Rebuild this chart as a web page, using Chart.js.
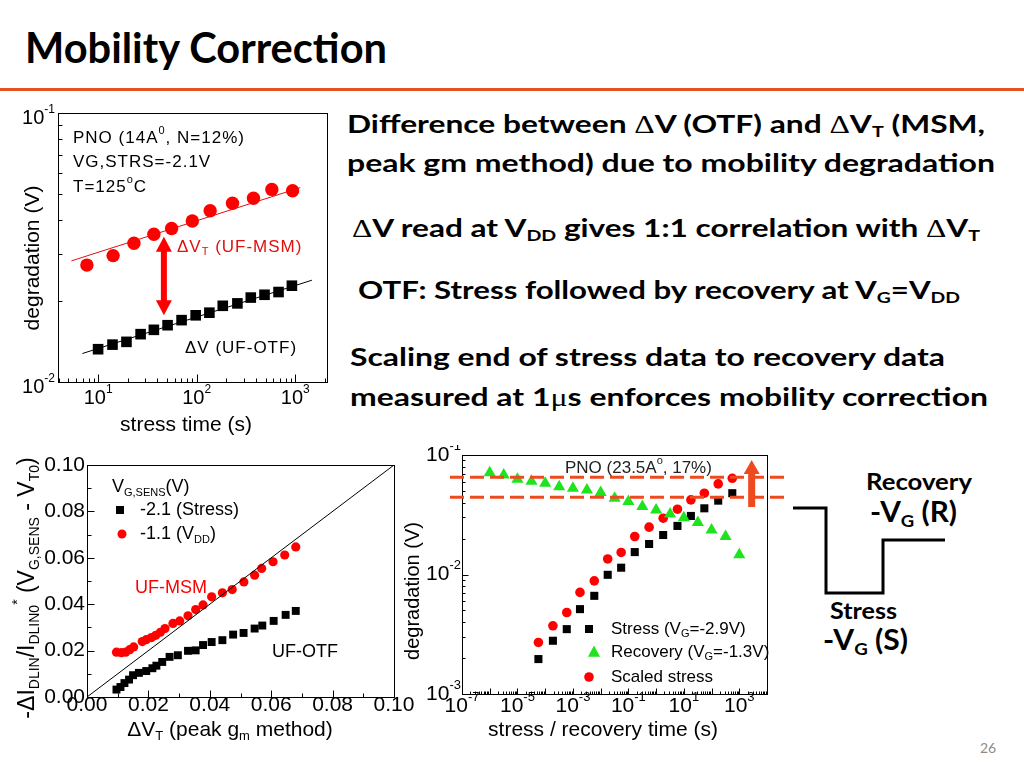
<!DOCTYPE html>
<html>
<head>
<meta charset="utf-8">
<title>Mobility Correction</title>
<script src="https://cdn.jsdelivr.net/npm/chart.js@4.4.1/dist/chart.umd.min.js"></script>
<style>
  html, body { margin: 0; padding: 0; }
  body { width: 1024px; height: 768px; position: relative; overflow: hidden; background: #fff; }
  .txt { position: absolute; white-space: nowrap; font-family: Lato, "Open Sans", sans-serif; font-weight: 700; line-height: 1; color: #000; transform-origin: 0 0; }
  .txt sub { font-size: 0.62em; vertical-align: baseline; position: relative; top: 0.28em; line-height: 0; }
  .sym { font-family: "Liberation Serif", serif; font-weight: 400; }
  canvas { position: absolute; }
</style>
</head>
<body>
<div class="txt" data-w="362" style="left:25px;top:26px;font-size:42px">Mobility Correction</div>
<div style="position:absolute;left:0;top:88px;width:1024px;height:3px;background:#e4521f"></div>

<div class="txt" data-w="638" style="left:347px;top:111px;font-size:25px">Difference between <span class="sym">Δ</span>V (OTF) and <span class="sym">Δ</span>V<sub>T</sub> (MSM,</div>
<div class="txt" data-w="648" style="left:347px;top:150px;font-size:25px">peak gm method) due to mobility degradation</div>
<div class="txt" data-w="628" style="left:352px;top:215px;font-size:25px"><span class="sym">Δ</span>V read at V<sub>DD</sub> gives 1:1 correlation with <span class="sym">Δ</span>V<sub>T</sub></div>
<div class="txt" data-w="602" style="left:358px;top:277px;font-size:25px">OTF: Stress followed by recovery at V<sub>G</sub>=V<sub>DD</sub></div>
<div class="txt" data-w="595" style="left:350px;top:344px;font-size:25px">Scaling end of stress data to recovery data</div>
<div class="txt" data-w="638" style="left:350px;top:384px;font-size:25px">measured at 1<span class="sym">μ</span>s enforces mobility correction</div>

<svg style="position:absolute;left:0;top:0" width="1024" height="768">
  <polyline points="793,508 826,508 826,593 883,593 883,540 945,540" fill="none" stroke="#000" stroke-width="3"/>
</svg>
<div class="txt" data-w="106" style="left:866px;top:471px;font-size:22px">Recovery</div>
<div class="txt" data-w="87" style="left:870px;top:497px;font-size:28px">-V<sub>G</sub> (R)</div>
<div class="txt" data-w="67" style="left:830px;top:600px;font-size:22px">Stress</div>
<div class="txt" data-w="85" style="left:823px;top:625px;font-size:28px">-V<sub>G</sub> (S)</div>
<div class="txt" style="left:980px;top:741px;font-size:14px;font-weight:400;color:#8c8c8c">26</div>

<canvas id="c1" width="345" height="345" style="left:0;top:95px"></canvas>
<canvas id="c2" width="420" height="310" style="left:0;top:445px"></canvas>
<canvas id="c3" width="400" height="300" style="left:400px;top:445px"></canvas>

<script>
const FONT = "'Liberation Sans', Arial, Helvetica, sans-serif";

// ---------- chart 1: degradation vs stress time (PNO 14A) ----------
const c1TimeMsm = [7.7, 14.2, 23.1, 36.8, 55.7, 90.3, 137, 231, 377, 579, 940];
const c1DegMsm = [0.0272, 0.0295, 0.0328, 0.0354, 0.0372, 0.0397, 0.0433, 0.0462, 0.0482, 0.052, 0.0514];
const c1TimeOtf = [10, 14, 19.4, 27, 36.8, 50.7, 70.3, 97.7, 134.6, 184, 259, 354, 488, 677, 925];
const c1DegOtf = [0.01324, 0.01377, 0.0141, 0.01506, 0.01563, 0.01626, 0.01698, 0.0177, 0.0181, 0.0192, 0.0196, 0.0206, 0.0211, 0.0216, 0.0228];
const c1FitMsmT = [5.36, 1125];
const c1FitMsmD = [0.0282, 0.0528];
const c1FitOtfT = [6.93, 1476];
const c1FitOtfD = [0.01276, 0.0239];
const c1ArrowT = 46.5;
const c1ArrowD = [0.0347, 0.0177];
const c1XTicks = [10, 100, 1000];
const c1XLabels = [["10", ["1", "sup"]], ["10", ["2", "sup"]], ["10", ["3", "sup"]]];
const c1YTicks = [0.01, 0.1];
const c1YLabels = [["10", ["-2", "sup"]], ["10", ["-1", "sup"]]];

// ---------- chart 2: -dI/I*(Vg-Vt0) vs dVt ----------
const c2VtMsm = [0.0096, 0.0112, 0.0126, 0.0139, 0.0152, 0.018, 0.0193, 0.021, 0.0224, 0.0239, 0.0254, 0.028, 0.0302, 0.0329, 0.0354, 0.0378, 0.0406, 0.0441, 0.0473, 0.0511, 0.0546, 0.0569, 0.0606, 0.0644, 0.068];
const c2DegMsm = [0.0193, 0.0191, 0.0193, 0.0204, 0.0216, 0.0239, 0.0247, 0.0256, 0.0266, 0.0279, 0.0295, 0.0317, 0.0328, 0.035, 0.0377, 0.0397, 0.0432, 0.0449, 0.0463, 0.0496, 0.0525, 0.0554, 0.0583, 0.0612, 0.0647];
const c2VtOtf = [0.0096, 0.0109, 0.0122, 0.0137, 0.015, 0.0169, 0.0193, 0.0213, 0.0226, 0.0245, 0.0269, 0.0296, 0.0329, 0.0354, 0.0378, 0.0406, 0.0441, 0.0476, 0.051, 0.0546, 0.0571, 0.0608, 0.0647, 0.068];
const c2DegOtf = [0.0032, 0.0043, 0.006, 0.0075, 0.0094, 0.0104, 0.0112, 0.0124, 0.0135, 0.0151, 0.0173, 0.018, 0.0199, 0.0201, 0.0224, 0.0237, 0.0245, 0.0269, 0.0276, 0.0295, 0.0308, 0.0328, 0.0354, 0.0371];
const c2Diag = [0, 0.1];
const c2Ticks = [0, 0.02, 0.04, 0.06, 0.08, 0.1];
const c2Minor = [0.01, 0.03, 0.05, 0.07, 0.09];
const c2Labels = ["0.00", "0.02", "0.04", "0.06", "0.08", "0.10"];

// ---------- chart 3: stress / recovery (PNO 23.5A) ----------
const c3RecTime = [1e-6, 3.2e-6, 1e-5, 3.2e-5, 1e-4, 3.2e-4, 1e-3, 3.2e-3, 1e-2, 3.2e-2, 0.1, 0.32, 1, 3.2, 10, 32, 100, 320, 1000];
const c3RecDeg = [0.0711, 0.068, 0.0627, 0.0603, 0.058, 0.0543, 0.0526, 0.051, 0.0485, 0.0435, 0.0408, 0.037, 0.0347, 0.0321, 0.0299, 0.0272, 0.0236, 0.0208, 0.0146];
const c3StressTime = [5.7e-5, 1.9e-4, 6e-4, 1.8e-3, 5.9e-3, 1.8e-2, 5.5e-2, 0.17, 0.56, 1.8, 5.9, 18, 55, 174, 560];
const c3StressDeg = [0.00196, 0.00279, 0.00349, 0.00513, 0.00663, 0.00994, 0.0114, 0.0154, 0.018, 0.0214, 0.0255, 0.0309, 0.0358, 0.0415, 0.0479];
const c3ScaledDeg = [0.0027, 0.00372, 0.00481, 0.00708, 0.00885, 0.0135, 0.0153, 0.0208, 0.0249, 0.0296, 0.0352, 0.0421, 0.0479, 0.0573, 0.0638];
const c3Levels = [0.065, 0.0443];
const c3ArrowT = 2800;
const c3ArrowD = [0.0367, 0.0908];
const c3XTicks = [1e-7, 1e-6, 1e-5, 1e-4, 1e-3, 1e-2, 1e-1, 1, 10, 100, 1000, 1e4];
const c3XLabelVals = [1e-7, 1e-5, 1e-3, 1e-1, 10, 1000];
const c3XLabels = [["10", ["-7", "sup"]], ["10", ["-5", "sup"]], ["10", ["-3", "sup"]], ["10", ["-1", "sup"]], ["10", ["1", "sup"]], ["10", ["3", "sup"]]];
const c3YTicks = [0.001, 0.01, 0.1];
const c3YLabels = [["10", ["-3", "sup"]], ["10", ["-2", "sup"]], ["10", ["-1", "sup"]]];

const RED = "#ff0000";
const GREEN = "#1ee31e";
const ORANGE = "#ef4a1f";

const pts = (xs, ys) => xs.map((x, i) => ({ x, y: ys[i] }));

function logMinor(decades) {
  const out = [];
  decades.forEach(d => { for (let k = 2; k <= 9; k++) out.push(d * k); });
  return out;
}

// text with sub / superscript pieces
function rich(ctx, x, y, parts, o) {
  const size = o.size || 20;
  const segs = parts.map(p => (typeof p === "string" ? [p, ""] : p));
  ctx.save();
  ctx.letterSpacing = (o.ls || 0) + "px";
  const fontOf = k => (k ? Math.round(size * 0.62) : size) + "px " + FONT;
  const widths = segs.map(([t, k]) => { ctx.font = fontOf(k); return ctx.measureText(t).width; });
  const total = widths.reduce((a, b) => a + b, 0);
  ctx.translate(x, y);
  if (o.rot) ctx.rotate(o.rot);
  let cx = o.align === "center" ? -total / 2 : o.align === "right" ? -total : 0;
  ctx.textBaseline = "middle";
  ctx.textAlign = "left";
  ctx.fillStyle = o.color || "#000";
  segs.forEach(([t, k], i) => {
    ctx.font = fontOf(k);
    const dy = k === "sub" ? size * 0.32 : k === "sup" ? -size * 0.42 : 0;
    ctx.fillText(t, cx, dy);
    cx += widths[i];
  });
  ctx.restore();
}

function marker(ctx, kind, x, y, s, color) {
  ctx.fillStyle = color;
  ctx.beginPath();
  if (kind === "rect") ctx.rect(x - s / 2, y - s / 2, s, s);
  else if (kind === "circle") ctx.arc(x, y, s / 2, 0, Math.PI * 2);
  else {
    ctx.moveTo(x, y - s * 0.55);
    ctx.lineTo(x + s / 2, y + s * 0.4);
    ctx.lineTo(x - s / 2, y + s * 0.4);
    ctx.closePath();
  }
  ctx.fill();
}

// vertical arrow, head at yHead (and at yTail too if both)
function arrow(ctx, x, yTail, yHead, sw, hw, hl, color, both) {
  const d = yHead > yTail ? 1 : -1;
  ctx.fillStyle = color;
  ctx.beginPath();
  ctx.moveTo(x, yHead);
  ctx.lineTo(x + hw / 2, yHead - d * hl);
  ctx.lineTo(x + sw / 2, yHead - d * hl);
  if (both) {
    ctx.lineTo(x + sw / 2, yTail + d * hl);
    ctx.lineTo(x + hw / 2, yTail + d * hl);
    ctx.lineTo(x, yTail);
    ctx.lineTo(x - hw / 2, yTail + d * hl);
    ctx.lineTo(x - sw / 2, yTail + d * hl);
  } else {
    ctx.lineTo(x + sw / 2, yTail);
    ctx.lineTo(x - sw / 2, yTail);
  }
  ctx.lineTo(x - sw / 2, yHead - d * hl);
  ctx.lineTo(x - hw / 2, yHead - d * hl);
  ctx.closePath();
  ctx.fill();
}

// box, inward ticks, tick labels, axis titles, annotations
function framePlugin(o) {
  return {
    id: "frame",
    afterDatasetsDraw(chart) {
      const ctx = chart.ctx, a = chart.chartArea, sx = chart.scales.x, sy = chart.scales.y;
      ctx.save();
      ctx.strokeStyle = "#000";
      ctx.lineWidth = 1;
      const L = Math.round(a.left) + 0.5, B = Math.round(a.bottom) + 0.5;
      ctx.strokeRect(L, Math.round(a.top) + 0.5, Math.round(a.right - a.left), Math.round(a.bottom - a.top));
      ctx.beginPath();
      const xt = (vals, len) => vals.forEach(v => {
        const px = Math.round(sx.getPixelForValue(v)) + 0.5;
        if (px < a.left || px > a.right + 1) return;
        ctx.moveTo(px, B); ctx.lineTo(px, B - len);
      });
      const yt = (vals, len) => vals.forEach(v => {
        const py = Math.round(sy.getPixelForValue(v)) + 0.5;
        if (py < a.top - 1 || py > a.bottom + 1) return;
        ctx.moveTo(L, py); ctx.lineTo(L + len, py);
      });
      xt(o.xMajor, o.major); xt(o.xMinor, o.minor);
      yt(o.yMajor, o.major); yt(o.yMinor, o.minor);
      ctx.stroke();
      o.xLabelVals.forEach((v, i) => rich(ctx, sx.getPixelForValue(v), a.bottom + o.xLabOff, o.xLabels[i], { size: o.tickSize, align: "center" }));
      o.yLabelVals.forEach((v, i) => rich(ctx, a.left - o.yLabGap, sy.getPixelForValue(v) + o.yLabOff, o.yLabels[i], { size: o.tickSize, align: "right" }));
      rich(ctx, o.xTitle.x, o.xTitle.y, o.xTitle.parts, { size: o.xTitle.size, align: "center" });
      rich(ctx, o.yTitle.x, o.yTitle.y, o.yTitle.parts, { size: o.yTitle.size, align: "center", rot: -Math.PI / 2 });
      if (o.extra) o.extra(ctx, a, sx, sy);
      ctx.restore();
    }
  };
}

function makeChart(id, datasets, xs, ys, pad, plugin) {
  return new Chart(document.getElementById(id), {
    type: "scatter",
    data: { datasets },
    options: {
      responsive: false,
      animation: false,
      layout: { padding: pad },
      plugins: { legend: { display: false }, tooltip: { enabled: false } },
      scales: { x: Object.assign({ display: false }, xs), y: Object.assign({ display: false }, ys) }
    },
    plugins: [plugin]
  });
}

const fitLine = (d, color) => ({ data: d, showLine: true, borderColor: color, borderWidth: 1, pointRadius: 0 });
const dots = (d, style, r, color) => ({ data: d, showLine: false, pointStyle: style, pointRadius: r, backgroundColor: color, borderColor: color, borderWidth: 0 });

// ===== chart 1 =====
makeChart("c1",
  [
    fitLine(pts(c1FitMsmT, c1FitMsmD), "#e01010"),
    fitLine(pts(c1FitOtfT, c1FitOtfD), "#000"),
    dots(pts(c1TimeMsm, c1DegMsm), "circle", 6.7, RED),
    dots(pts(c1TimeOtf, c1DegOtf), "rect", 7.5, "#000")
  ],
  { type: "logarithmic", min: 3.92, max: 2100 },
  { type: "logarithmic", min: 0.01, max: 0.1 },
  { left: 58, right: 18, top: 18, bottom: 58 },
  framePlugin({
    major: 8, minor: 4, tickSize: 20,
    xMajor: c1XTicks, xMinor: logMinor([1, 10, 100, 1000]),
    yMajor: c1YTicks, yMinor: logMinor([0.01]),
    xLabelVals: c1XTicks, xLabels: c1XLabels, xLabOff: 16,
    yLabelVals: c1YTicks, yLabels: c1YLabels, yLabGap: 3, yLabOff: 5,
    xTitle: { x: 186, y: 330, size: 21, parts: ["stress time (s)"] },
    yTitle: { x: 33, y: 163, size: 21, parts: ["degradation (V)"] },
    extra(ctx, a, sx, sy) {
      rich(ctx, 73, 43, ["PNO (14A", ["0", "sup"], ", N=12%)"], { size: 17, ls: 1 });
      rich(ctx, 73, 67, ["VG,STRS=-2.1V"], { size: 17, ls: 1 });
      rich(ctx, 73, 92, ["T=125", ["o", "sup"], "C"], { size: 17, ls: 1 });
      rich(ctx, 177, 152, ["ΔV", ["T", "sub"], " (UF-MSM)"], { size: 17, ls: 1, color: "#e01010" });
      rich(ctx, 185, 253, ["ΔV (UF-OTF)"], { size: 17, ls: 1 });
      arrow(ctx, sx.getPixelForValue(c1ArrowT), sy.getPixelForValue(c1ArrowD[1]), sy.getPixelForValue(c1ArrowD[0]), 6, 16, 15, RED, true);
    }
  })
);

// ===== chart 2 =====
makeChart("c2",
  [
    fitLine(pts(c2Diag, c2Diag), "#000"),
    dots(pts(c2VtOtf, c2DegOtf), "rect", 5.6, "#000"),
    dots(pts(c2VtMsm, c2DegMsm), "circle", 4.6, RED)
  ],
  { type: "linear", min: 0, max: 0.1 },
  { type: "linear", min: 0, max: 0.1 },
  { left: 87, right: 26, top: 20, bottom: 58 },
  framePlugin({
    major: 7, minor: 4, tickSize: 21,
    xMajor: c2Ticks, xMinor: c2Minor, yMajor: c2Ticks, yMinor: c2Minor,
    xLabelVals: c2Ticks, xLabels: c2Labels.map(s => [s]), xLabOff: 8,
    yLabelVals: c2Ticks, yLabels: c2Labels.map(s => [s]), yLabGap: 2, yLabOff: 0,
    xTitle: { x: 230, y: 285, size: 21, parts: ["ΔV", ["T", "sub"], " (peak g", ["m", "sub"], " method)"] },
    yTitle: { x: 28, y: 143, size: 23, parts: ["-ΔI", ["DLIN", "sub"], "/I", ["DLIN0", "sub"], ["*", "sup"], " (V", ["G,SENS", "sub"], " - V", ["T0", "sub"], ")"] },
    extra(ctx) {
      rich(ctx, 112, 42, ["V", ["G,SENS", "sub"], "(V)"], { size: 18 });
      marker(ctx, "rect", 120, 65, 8, "#000");
      rich(ctx, 140, 65, ["-2.1 (Stress)"], { size: 18 });
      marker(ctx, "circle", 122, 89, 9, RED);
      rich(ctx, 140, 89, ["-1.1 (V", ["DD", "sub"], ")"], { size: 18 });
      rich(ctx, 135, 143, ["UF-MSM"], { size: 18, color: RED });
      rich(ctx, 272, 207, ["UF-OTF"], { size: 18 });
    }
  })
);

// ===== chart 3 =====
makeChart("c3",
  [
    dots(pts(c3RecTime, c3RecDeg), "triangle", 7, GREEN),
    dots(pts(c3StressTime, c3StressDeg), "rect", 5.7, "#000"),
    dots(pts(c3StressTime, c3ScaledDeg), "circle", 4.8, RED)
  ],
  { type: "logarithmic", min: 1e-7, max: 1e4 },
  { type: "logarithmic", min: 0.001, max: 0.1 },
  { left: 62, right: 33, top: 10, bottom: 51 },
  framePlugin({
    major: 6, minor: 3, tickSize: 21,
    xMajor: c3XTicks, xMinor: logMinor(c3XTicks.slice(0, -1)),
    yMajor: c3YTicks, yMinor: logMinor([0.001, 0.01]),
    xLabelVals: c3XLabelVals, xLabels: c3XLabels, xLabOff: 12,
    yLabelVals: c3YTicks, yLabels: c3YLabels, yLabGap: 1, yLabOff: 0,
    xTitle: { x: 203, y: 285, size: 21, parts: ["stress / recovery time (s)"] },
    yTitle: { x: 13, y: 146, size: 20, parts: ["degradation (V)"] },
    extra(ctx, a, sx, sy) {
      rich(ctx, 165, 23, ["PNO (23.5A", ["o", "sup"], ", 17%)"], { size: 17, color: "#222" });
      ctx.strokeStyle = ORANGE;
      ctx.lineWidth = 3;
      ctx.setLineDash([14, 6]);
      c3Levels.forEach(v => {
        const py = sy.getPixelForValue(v);
        ctx.beginPath(); ctx.moveTo(a.left - 12, py); ctx.lineTo(a.right + 18, py); ctx.stroke();
      });
      ctx.setLineDash([]);
      arrow(ctx, sx.getPixelForValue(c3ArrowT), sy.getPixelForValue(c3ArrowD[0]), sy.getPixelForValue(c3ArrowD[1]), 7, 16, 14, ORANGE, false);
      marker(ctx, "rect", 189, 184, 8, "#000");
      rich(ctx, 211, 184, ["Stress (V", ["G", "sub"], "=-2.9V)"], { size: 17 });
      marker(ctx, "tri", 194, 207, 12, GREEN);
      rich(ctx, 211, 207, ["Recovery (V", ["G", "sub"], "=-1.3V)"], { size: 17 });
      marker(ctx, "circle", 189, 232, 9.6, RED);
      rich(ctx, 211, 232, ["Scaled stress"], { size: 17 });
    }
  })
);

function fitText() {
  document.querySelectorAll(".txt[data-w]").forEach(el => {
    el.style.transform = "none";
    const w = el.getBoundingClientRect().width;
    el.style.transform = "scaleX(" + (+el.dataset.w / w) + ")";
  });
}
fitText();
if (document.fonts) document.fonts.ready.then(fitText);
</script>
</body>
</html>
